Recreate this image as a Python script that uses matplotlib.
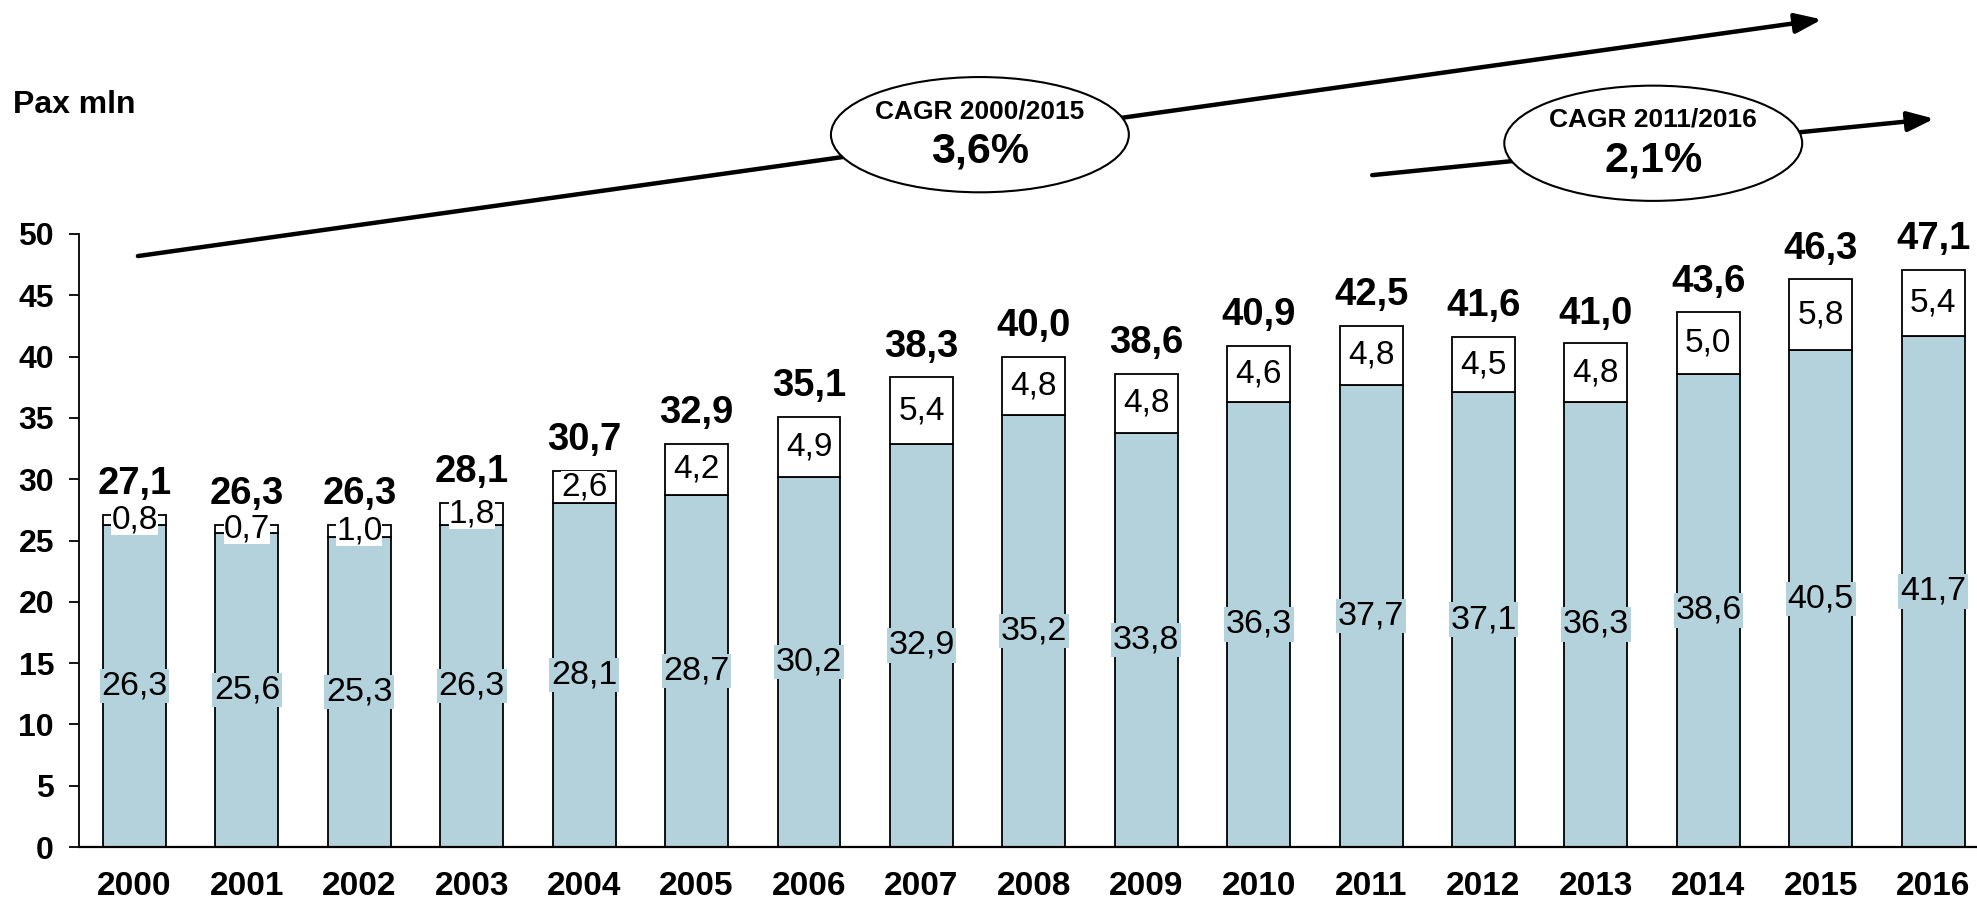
import matplotlib
matplotlib.use("Agg")
import matplotlib.pyplot as plt
from matplotlib.patches import Ellipse

plt.rcParams['font.family'] = ['Liberation Sans', 'DejaVu Sans']

# dati (Pax mln)
years = ['2000', '2001', '2002', '2003', '2004', '2005', '2006', '2007', '2008',
         '2009', '2010', '2011', '2012', '2013', '2014', '2015', '2016']
base_pax = [26.3, 25.6, 25.3, 26.3, 28.1, 28.7, 30.2, 32.9, 35.2,
            33.8, 36.3, 37.7, 37.1, 36.3, 38.6, 40.5, 41.7]
extra_pax = [0.8, 0.7, 1.0, 1.8, 2.6, 4.2, 4.9, 5.4, 4.8,
             4.8, 4.6, 4.8, 4.5, 4.8, 5.0, 5.8, 5.4]
total_pax = [27.1, 26.3, 26.3, 28.1, 30.7, 32.9, 35.1, 38.3, 40.0,
             38.6, 40.9, 42.5, 41.6, 41.0, 43.6, 46.3, 47.1]
cagr_labels = ['CAGR 2000/2015', 'CAGR 2011/2016']
cagr_values = ['3,6%', '2,1%']

BLUE = '#b3d2dc'


def fmt(v):
    """ numero con la virgola decimale """
    return '{:.1f}'.format(v).replace('.', ',')


fig = plt.figure(figsize=(19.77, 9.01), dpi=100)
ax = fig.add_axes([0.03996, 0.0599, 0.96004, 0.6804])

x = list(range(len(years)))
ax.bar(x, base_pax, width=0.56, color=BLUE, edgecolor='black', linewidth=1.3, zorder=2)
ax.bar(x, extra_pax, bottom=base_pax, width=0.56, color='white',
       edgecolor='black', linewidth=1.3, zorder=2)

for i in x:
    b, t, tot = base_pax[i], extra_pax[i], total_pax[i]
    ax.text(i, b / 2, fmt(b), ha='center', va='center', fontsize=24.5, zorder=4,
            bbox=dict(boxstyle='square,pad=0.05', fc=BLUE, ec='none'))
    ax.text(i, b + t / 2, fmt(t), ha='center', va='center', fontsize=24, zorder=4,
            bbox=dict(boxstyle='square,pad=0.0', fc='white', ec='none'))
    ax.annotate(fmt(tot), (i, tot), xytext=(0, 15), textcoords='offset points',
                ha='center', va='baseline', fontsize=27.5, fontweight='bold',
                annotation_clip=False, zorder=4)

ax.set_xlim(-0.494, 16.39)
ax.set_ylim(0, 50)
ax.set_yticks(range(0, 51, 5))
ax.set_xticks(x)
ax.set_xticklabels(years)
ax.tick_params(axis='y', length=7, width=1.3, pad=11, labelsize=23)
ax.tick_params(axis='x', length=0, pad=17, labelsize=24)
for lbl in ax.get_yticklabels() + ax.get_xticklabels():
    lbl.set_fontweight('bold')
for side in ['top', 'right']:
    ax.spines[side].set_visible(False)
ax.spines['left'].set_linewidth(1.3)
ax.spines['bottom'].set_linewidth(1.6)

# frecce CAGR
arrows = [((0.03, 48.2), (15.01, 67.5)), ((11.01, 54.8), (16.01, 59.4))]
for start, end in arrows:
    ax.annotate('', xy=end, xytext=start, annotation_clip=False, zorder=5,
                arrowprops=dict(arrowstyle='-|>,head_length=0.8,head_width=0.3',
                                lw=3.2, color='black', mutation_scale=20,
                                shrinkA=0, shrinkB=0))

ellipses = [(7.52, 58.1), (13.51, 57.4)]
for (cx, cy), lab, val in zip(ellipses, cagr_labels, cagr_values):
    ax.add_patch(Ellipse((cx, cy), 2.65, 9.4, fc='white', ec='black', lw=1.5,
                         clip_on=False, zorder=6))
    ax.text(cx, cy + 1.9, lab, ha='center', va='center', fontsize=19,
            fontweight='bold', zorder=7, clip_on=False)
    ax.text(cx, cy - 1.4, val, ha='center', va='center', fontsize=31,
            fontweight='bold', zorder=7, clip_on=False)

fig.text(0.0066, 0.875, 'Pax mln', ha='left', va='baseline', fontsize=23, fontweight='bold')

fig.savefig('out.png', dpi=100)
